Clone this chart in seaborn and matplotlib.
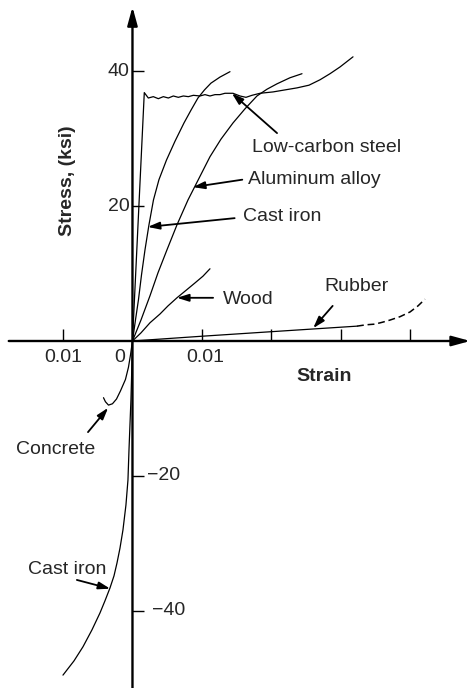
import matplotlib
matplotlib.use("Agg")
import matplotlib.pyplot as plt
import seaborn as sns

# stress-strain curves (strain, stress in ksi)
steel_strain = [0, 0.0017, 0.00228, 0.003, 0.00372, 0.00444, 0.00516, 0.00588, 0.0066, 0.00732,
                0.00804, 0.00876, 0.00971, 0.01043, 0.01115, 0.01187, 0.01259, 0.01331, 0.01446,
                0.01547, 0.01633, 0.0172, 0.01835, 0.02022, 0.02194, 0.02367, 0.0254, 0.02698,
                0.02842, 0.02986, 0.03173]
steel_stress = [0, 36.8, 36.0, 36.2, 35.9, 36.2, 36.0, 36.3, 36.1, 36.3,
                36.2, 36.4, 36.3, 36.5, 36.3, 36.5, 36.5, 36.7, 36.7,
                36.3, 36.1, 36.4, 36.7, 36.9, 37.2, 37.5, 37.9, 38.7,
                39.6, 40.6, 42.1]

alu_strain = [0, 0.00122, 0.00252, 0.00367, 0.00496, 0.0064, 0.00799, 0.00957, 0.01115,
              0.01273, 0.01446, 0.01619, 0.01791, 0.01935, 0.02079, 0.02266, 0.02439]
alu_stress = [0, 3.1, 6.7, 10.1, 13.5, 17.2, 20.9, 24.1, 27.3,
              29.9, 32.3, 34.4, 36.3, 37.3, 38.1, 39.0, 39.6]

iron_t_strain = [0, 0.00043, 0.00086, 0.0013, 0.0018, 0.00237, 0.00302, 0.00381, 0.00489,
                 0.00612, 0.00741, 0.00842, 0.00942, 0.01036, 0.01129, 0.01259, 0.01403]
iron_t_stress = [0, 3.1, 6.1, 9.8, 13.5, 17.2, 20.9, 23.9, 26.8,
                 29.6, 32.3, 34.2, 36.0, 37.2, 38.2, 39.1, 39.9]

wood_strain = [0, 0.00122, 0.00252, 0.00396, 0.00511, 0.0064, 0.0077, 0.00899, 0.01014, 0.01115]
wood_stress = [0, 1.2, 2.7, 4.0, 5.2, 6.4, 7.5, 8.6, 9.6, 10.7]

rubber_strain = [0, 0.0099, 0.0203, 0.0323]
rubber_stress = [0, 0.7, 1.4, 2.2]
rubber_ext_strain = [0.0323, 0.0336, 0.03489, 0.03604, 0.03705, 0.03849, 0.03993, 0.04108, 0.04209]
rubber_ext_stress = [2.2, 2.4, 2.5, 2.8, 3.1, 3.6, 4.3, 5.2, 6.2]

concrete_strain = [0, -0.00029, -0.00058, -0.00101, -0.00173, -0.0023, -0.00288, -0.00345, -0.00389, -0.00417]
concrete_stress = [0, -2.1, -3.9, -5.7, -7.4, -8.6, -9.3, -9.5, -9.0, -8.4]

iron_c_strain = [0, -0.00014, -0.00022, -0.00036, -0.0005, -0.00065, -0.00094, -0.00137, -0.0018,
                 -0.00223, -0.00266, -0.00324, -0.00396, -0.00468, -0.00583, -0.00712, -0.00842, -0.01]
iron_c_stress = [0, -5.8, -8.7, -12.4, -16.1, -20.6, -24.3, -28.0, -30.7,
                 -32.9, -34.8, -36.6, -38.5, -40.3, -42.8, -45.3, -47.4, -49.5]

x_ticks = [-0.01, 0.01, 0.02, 0.03, 0.04]
y_ticks = [40, 20, -20, -40]

sns.set_theme(style="white")
plt.rcParams["font.family"] = ["Liberation Sans", "DejaVu Sans"]

fig = plt.figure(figsize=(4.72, 6.88), dpi=100)
ax = fig.add_axes([0, 0, 1, 1])

line_kw = dict(color="black", linewidth=0.9, sort=False, estimator=None, ax=ax)
sns.lineplot(x=steel_strain, y=steel_stress, **line_kw)
sns.lineplot(x=alu_strain, y=alu_stress, **line_kw)
sns.lineplot(x=iron_t_strain, y=iron_t_stress, **line_kw)
sns.lineplot(x=wood_strain, y=wood_stress, **line_kw)
sns.lineplot(x=rubber_strain, y=rubber_stress, **line_kw)
sns.lineplot(x=rubber_ext_strain, y=rubber_ext_stress, linestyle=(0, (4.5, 2.5)),
             color="black", linewidth=1.1, sort=False, estimator=None, ax=ax)
sns.lineplot(x=concrete_strain, y=concrete_stress, **line_kw)
sns.lineplot(x=iron_c_strain, y=iron_c_stress, **line_kw)

ax.set_xlim(-0.01906, 0.04885)
ax.set_ylim(-51.41, 50.52)

# axes through the origin
for s in ax.spines.values():
    s.set_visible(False)
ax.spines["bottom"].set_position(("data", 0))
ax.spines["left"].set_position(("data", 0))
ax.xaxis.set_ticks_position("bottom")
ax.yaxis.set_ticks_position("left")
ax.set_xticks(x_ticks)
ax.set_yticks(y_ticks)
ax.set_xticklabels([])
ax.set_yticklabels([])
ax.tick_params(direction="in", length=8.5, width=1.0, color="black")

axis_arrow = dict(arrowstyle="-|>,head_length=1.1,head_width=0.3", color="black", lw=1.7,
                  shrinkA=0, shrinkB=0, mutation_scale=10)
ax.annotate("", xy=(0.0486, 0), xytext=(-0.0178, 0), arrowprops=axis_arrow)
ax.annotate("", xy=(0, 49.5), xytext=(0, -51.41), arrowprops=axis_arrow, annotation_clip=False)

fs = 14
# tick labels
ax.text(-0.0004, 40, "40", ha="right", va="center", fontsize=fs)
ax.text(-0.0004, 20, "20", ha="right", va="center", fontsize=fs)
ax.text(0.0021, -20, "\u221220", ha="left", va="center", fontsize=fs)
ax.text(0.0028, -40, "\u221240", ha="left", va="center", fontsize=fs)
ax.text(-0.01, -2.4, "0.01", ha="center", va="center", fontsize=fs)
ax.text(-0.0018, -2.4, "0", ha="center", va="center", fontsize=fs)
ax.text(0.0104, -2.4, "0.01", ha="center", va="center", fontsize=fs)

ax.text(0.0276, -5.2, "Strain", ha="center", va="center", fontsize=fs, fontweight="bold")
ax.text(-0.0093, 23.7, "Stress, (ksi)", ha="center", va="center", fontsize=fs,
        fontweight="bold", rotation=90)

# labels with arrows
arrow = dict(arrowstyle="-|>,head_length=0.7,head_width=0.22", color="black", lw=1.3,
             shrinkA=0, shrinkB=0, mutation_scale=10)
notes = [
    ("Low-carbon steel", (0.0172, 28.7), "left", (0.0208, 30.8), (0.0143, 36.7)),
    ("Aluminum alloy", (0.0166, 23.9), "left", (0.0158, 23.9), (0.0087, 22.8)),
    ("Cast iron", (0.0159, 18.4), "left", (0.0147, 18.2), (0.0022, 16.9)),
    ("Wood", (0.0130, 6.2), "left", (0.0116, 6.4), (0.0064, 6.4)),
    ("Rubber", (0.0322, 8.0), "center", (0.0288, 5.2), (0.0260, 1.9)),
    ("Concrete", (-0.0110, -16.1), "center", (-0.0064, -13.5), (-0.0035, -9.9)),
    ("Cast iron", (-0.0094, -33.9), "center", (-0.0080, -35.4), (-0.0032, -36.7)),
]
for label, pos, ha, tail, tip in notes:
    ax.text(pos[0], pos[1], label, ha=ha, va="center", fontsize=fs)
    ax.annotate("", xy=tip, xytext=tail, arrowprops=arrow)

fig.savefig("out.png", dpi=100)
